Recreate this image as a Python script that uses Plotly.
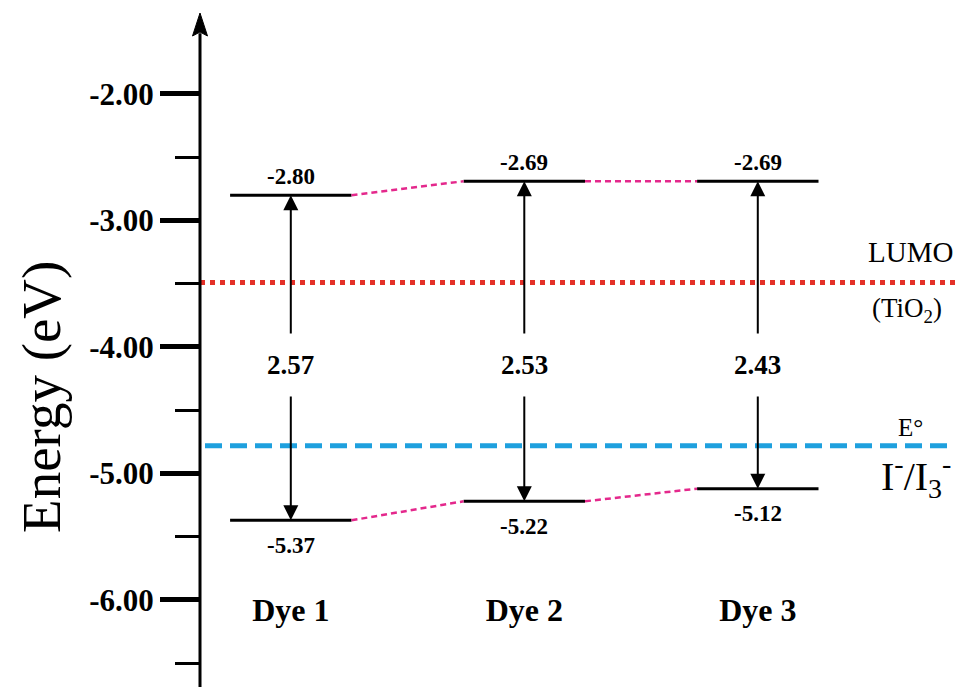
import plotly.graph_objects as go

# ---------------- data ----------------
dyes = ["Dye 1", "Dye 2", "Dye 3"]
lumo = [-2.80, -2.69, -2.69]
homo = [-5.37, -5.22, -5.12]
gap = [2.57, 2.53, 2.43]
tio2_cb = -3.49          # LUMO (TiO2)
redox = -4.78            # E° I-/I3-
y_tickvals = [-2.0, -3.0, -4.0, -5.0, -6.0]
y_ticktext = ["-2.00", "-3.00", "-4.00", "-5.00", "-6.00"]
y_minor = [-2.5, -3.5, -4.5, -5.5, -6.5]

# ---------------- layout constants ----------------
SERIF = "Liberation Serif, Times New Roman, serif"
Y_RANGE = [-6.688, -1.257]
X_RANGE = [-0.2454, 3.866]
AXIS_X = 200 / 960          # paper x of vertical axis
HALF = 0.26                 # half length of level lines
LABEL_Y = -4.142            # height of gap labels
ARROW_GAP = 0.237
xs = [1, 2, 3]

fig = go.Figure()

# level lines
lx, ly = [], []
for x, lu, ho in zip(xs, lumo, homo):
    lx += [x - HALF, x + HALF, None, x - HALF, x + HALF, None]
    ly += [lu, lu, None, ho, ho, None]
fig.add_trace(go.Scatter(x=lx, y=ly, mode="lines",
                         line=dict(color="black", width=3),
                         hoverinfo="skip", showlegend=False))

# dashed magenta connectors
cx, cy = [], []
for k in range(len(xs) - 1):
    for arr in (lumo, homo):
        cx += [xs[k] + HALF, xs[k + 1] - HALF, None]
        cy += [arr[k], arr[k + 1], None]
fig.add_trace(go.Scatter(x=cx, y=cy, mode="lines",
                         line=dict(color="rgb(228,40,140)", width=2.5, dash="6px,4px"),
                         hoverinfo="skip", showlegend=False))

shapes = []
# reference lines
shapes.append(dict(type="line", xref="paper", yref="y", x0=AXIS_X, x1=1.0,
                   y0=tio2_cb, y1=tio2_cb,
                   line=dict(color="rgb(228,48,40)", width=5, dash="5px,5px")))
shapes.append(dict(type="line", xref="paper", yref="y", x0=AXIS_X + 5 / 960, x1=950 / 960,
                   y0=redox, y1=redox,
                   line=dict(color="rgb(30,160,222)", width=5, dash="17px,8px")))
# main vertical axis line + arrow head
shapes.append(dict(type="line", xref="paper", yref="y", x0=AXIS_X, x1=AXIS_X,
                   y0=Y_RANGE[0], y1=-1.52, line=dict(color="black", width=3)))
tip, base, notch = -1.360, -1.5415, -1.51
w = 7.5 / 960
shapes.append(dict(type="path", xref="paper", yref="y",
                   path=f"M {AXIS_X} {tip} L {AXIS_X - w} {base} L {AXIS_X} {notch} L {AXIS_X + w} {base} Z",
                   fillcolor="black", line=dict(color="black", width=1)))

annotations = []
for x, lu, ho, g in zip(xs, lumo, homo, gap):
    # arrows
    annotations.append(dict(x=x, y=lu, ax=x, ay=LABEL_Y + ARROW_GAP, xref="x", yref="y",
                            axref="x", ayref="y", text="", showarrow=True,
                            arrowhead=2, arrowwidth=2, arrowsize=1.5, arrowcolor="black", standoff=0))
    annotations.append(dict(x=x, y=ho, ax=x, ay=LABEL_Y - ARROW_GAP, xref="x", yref="y",
                            axref="x", ayref="y", text="", showarrow=True,
                            arrowhead=2, arrowwidth=2, arrowsize=1.5, arrowcolor="black", standoff=0))
    # gap label
    annotations.append(dict(x=x, y=LABEL_Y, text=f"{g:.2f}", showarrow=False,
                            xanchor="center", yanchor="middle",
                            font=dict(family=SERIF, size=27, color="black", weight="bold")))
    # level labels
    annotations.append(dict(x=x, y=lu, text=f"{lu:.2f}", showarrow=False, yshift=19,
                            xanchor="center", yanchor="middle",
                            font=dict(family=SERIF, size=23, color="black", weight="bold")))
    annotations.append(dict(x=x, y=ho, text=f"{ho:.2f}", showarrow=False, yshift=-25,
                            xanchor="center", yanchor="middle",
                            font=dict(family=SERIF, size=23, color="black", weight="bold")))

# right side labels and axis title
annotations += [
    dict(xref="paper", yref="y", x=910 / 960, y=-3.249, text="LUMO", showarrow=False,
         xanchor="center", yanchor="middle",
         font=dict(family=SERIF, size=29, color="black")),
    dict(xref="paper", yref="y", x=907 / 960, y=-3.708, text="(TiO<sub>2</sub>)", showarrow=False,
         xanchor="center", yanchor="middle",
         font=dict(family=SERIF, size=27, color="black")),
    dict(xref="paper", yref="y", x=910 / 960, y=-4.64, text="E°", showarrow=False,
         xanchor="center", yanchor="middle",
         font=dict(family=SERIF, size=25, color="black")),
    dict(xref="paper", yref="y", x=916 / 960, y=-5.02,
         text="I<sup>-</sup>/I<sub>3</sub><sup>-</sup>", showarrow=False,
         xanchor="center", yanchor="middle",
         font=dict(family=SERIF, size=40, color="black")),
    dict(xref="paper", yref="y", x=42 / 960, y=-4.395, text="Energy (eV)", textangle=-90,
         xanchor="center", yanchor="middle",
         showarrow=False, font=dict(family=SERIF, size=55, color="black")),
]

fig.update_layout(
    width=960, height=687,
    margin=dict(l=0, r=0, t=0, b=0),
    paper_bgcolor="white", plot_bgcolor="white",
    shapes=shapes, annotations=annotations,
    xaxis=dict(range=X_RANGE, showgrid=False, zeroline=False, showline=False,
               tickvals=xs, ticktext=dyes, ticks="", anchor="free", position=1 - 588 / 687,
               tickfont=dict(family=SERIF, size=32, color="black", weight="bold")),
    yaxis=dict(range=Y_RANGE, showgrid=False, zeroline=False, showline=False,
               anchor="free", position=AXIS_X, side="left",
               tickvals=y_tickvals, ticktext=y_ticktext,
               ticks="outside", ticklen=40, tickwidth=5, tickcolor="black",
               tickfont=dict(family=SERIF, size=31, color="black", weight="bold"),
               minor=dict(tickvals=y_minor, ticks="outside", ticklen=25, tickwidth=2.5,
                          tickcolor="black")),
)

fig.write_html("out.html", config={"displayModeBar": False},
               post_script="document.body.style.margin='0';document.body.style.padding='0';")
